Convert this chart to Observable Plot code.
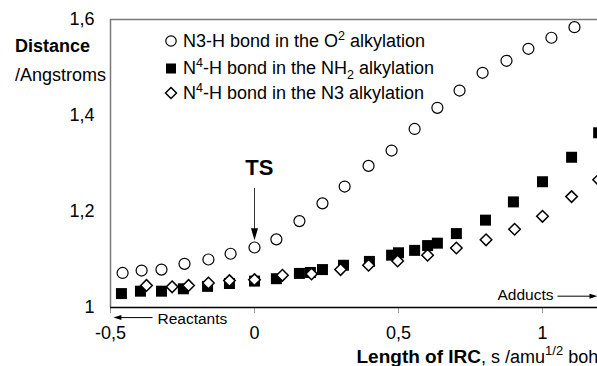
<!DOCTYPE html>
<html><head><meta charset="utf-8">
<script src="https://cdn.jsdelivr.net/npm/d3@7"></script>
<script src="https://cdn.jsdelivr.net/npm/@observablehq/plot@0.6"></script>
<style>html,body{margin:0;padding:0;overflow:hidden;background:#fff;} #chart{width:696px;} #chart svg{max-width:none !important;}</style>
</head><body><div id="chart"></div>
<script>
// N3-H bond in the O2 alkylation (open circles)
const o2X = [-0.458,-0.392,-0.323,-0.243,-0.160,-0.083,0.0,0.076,0.156,0.236,0.313,0.396,0.476,0.556,0.635,0.712,0.792,0.875,0.951,1.031,1.111];
const o2Y = [1.072,1.077,1.079,1.091,1.100,1.112,1.125,1.142,1.180,1.217,1.252,1.295,1.327,1.372,1.416,1.452,1.489,1.514,1.539,1.562,1.584];
// N4-H bond in the NH2 alkylation (filled squares)
const nh2X = [-0.462,-0.396,-0.323,-0.247,-0.163,-0.087,0.0,0.076,0.156,0.194,0.236,0.309,0.399,0.476,0.500,0.556,0.601,0.635,0.701,0.802,0.899,1.000,1.101,1.195];
const nh2Y = [1.029,1.034,1.034,1.039,1.044,1.050,1.055,1.060,1.071,1.073,1.079,1.088,1.096,1.109,1.114,1.119,1.129,1.134,1.154,1.182,1.220,1.262,1.313,1.364];
// N4-H bond in the N3 alkylation (open diamonds)
const n3X = [-0.375,-0.286,-0.229,-0.160,-0.087,0.0,0.097,0.198,0.299,0.396,0.497,0.601,0.701,0.804,0.903,1.000,1.101,1.195];
const n3Y = [1.046,1.043,1.046,1.051,1.056,1.058,1.067,1.070,1.079,1.088,1.097,1.109,1.124,1.141,1.163,1.190,1.231,1.266];

const xTicks = [-0.5, 0, 0.5, 1];
const xTickLabels = ["-0,5", "0", "0,5", "1"];
const yTicks = [1, 1.2, 1.4, 1.6];
const yTickLabels = ["1", "1,2", "1,4", "1,6"];

const rows = (xs, ys) => xs.map((x, i) => ({x, y: ys[i]}));

const diamondSym = {draw(ctx, size) { const r = Math.sqrt(size) * 0.62625; ctx.moveTo(0, -r); ctx.lineTo(r, 0); ctx.lineTo(0, r); ctx.lineTo(-r, 0); ctx.closePath(); }};
const bigHead = {draw(ctx) { ctx.moveTo(0, 0); ctx.lineTo(-3.5, -12); ctx.lineTo(3.5, -12); ctx.closePath(); }};
const smallHead = {draw(ctx) { ctx.moveTo(0, 0); ctx.lineTo(-2.5, -8); ctx.lineTo(2.5, -8); ctx.closePath(); }};

const font = "'Liberation Sans', Arial, Helvetica, sans-serif";

const chart = Plot.plot({
  width: 696, height: 366,
  marginLeft: 110, marginRight: 10, marginTop: 19, marginBottom: 59,
  style: {fontFamily: font, fontSize: "18px", color: "black", background: "white", overflow: "visible", maxWidth: "none"},
  x: {domain: [-0.5, 1.5]},
  y: {domain: [1, 1.6]},
  marks: [
    Plot.ruleY([1.6], {stroke: "#7a7a7a", strokeWidth: 1.5}),
    Plot.ruleX([-0.5], {y1: 1, y2: 1.6, stroke: "#7a7a7a", strokeWidth: 1.5}),
    Plot.axisX({ticks: xTicks, tickFormat: d => xTickLabels[xTicks.indexOf(d)], tickSize: 6, tickPadding: 13, stroke: "#999", label: null, fontSize: 18}),
    Plot.axisY({ticks: yTicks, tickFormat: d => yTickLabels[yTicks.indexOf(d)], tickSize: 0, tickPadding: 16, label: null, fontSize: 18}),
    Plot.ruleY([1], {stroke: "black", strokeWidth: 1.5}),
    Plot.dot(rows(o2X, o2Y), {x: "x", y: "y", r: 5.5, stroke: "black", strokeWidth: 1.2, fill: "white"}),
    Plot.dot(rows(nh2X, nh2Y), {x: "x", y: "y", symbol: "square", r: 6.2, fill: "black", stroke: "none"}),
    Plot.dot(rows(n3X, n3Y), {x: "x", y: "y", symbol: diamondSym, r: 5.2, fill: "white", stroke: "black", strokeWidth: 1.5}),
    // TS annotation
    Plot.text([{x: 0.017, y: 1.291}], {x: "x", y: "y", text: () => "TS", fontSize: 22, fontWeight: "bold", fill: "black"}),
    Plot.link([{x1: 0, y1: 1.249, x2: 0, y2: 1.162}], {x1: "x1", y1: "y1", x2: "x2", y2: "y2", stroke: "#333", strokeWidth: 1}),
    Plot.dot([{x: 0, y: 1.140}], {x: "x", y: "y", symbol: bigHead, r: 5, fill: "black", stroke: "none"}),
    // Reactants
    Plot.text([{x: -0.337, y: 0.976}], {x: "x", y: "y", text: () => "Reactants", textAnchor: "start", fontSize: 15.5, fill: "black"}),
    Plot.link([{x1: -0.354, y1: 0.979, x2: -0.465, y2: 0.979}], {x1: "x1", y1: "y1", x2: "x2", y2: "y2", stroke: "black", strokeWidth: 1}),
    Plot.dot([{x: -0.49, y: 0.979}], {x: "x", y: "y", symbol: smallHead, r: 5, rotate: 90, fill: "black", stroke: "none"}),
    // Adducts
    Plot.text([{x: 1.038, y: 1.0251}], {x: "x", y: "y", text: () => "Adducts", textAnchor: "end", fontSize: 15.5, fill: "black"}),
    Plot.link([{x1: 1.052, y1: 1.0236, x2: 1.165, y2: 1.0236}], {x1: "x1", y1: "y1", x2: "x2", y2: "y2", stroke: "black", strokeWidth: 1}),
    Plot.dot([{x: 1.191, y: 1.0236}], {x: "x", y: "y", symbol: smallHead, r: 5, rotate: -90, fill: "black", stroke: "none"})
  ]
});

const svg = d3.select(chart);
// Y title
const yt = svg.append("g").attr("font-family", font).attr("fill", "black").attr("text-anchor", "start");
yt.append("text").attr("x", 15).attr("y", 51.5).attr("font-size", 18).attr("font-weight", "bold").text("Distance");
yt.append("text").attr("x", 15).attr("y", 81).attr("font-size", 18).text("/Angstroms");

// X title
const xt = svg.append("text").attr("x", 356.5).attr("y", 363).attr("text-anchor", "start").attr("font-family", font).attr("font-size", 18).attr("fill", "black");
xt.append("tspan").attr("font-weight", "bold").attr("font-size", 19).text("Length of IRC");
xt.append("tspan").text(", s /amu");
xt.append("tspan").attr("dy", -8).attr("font-size", 13).text("1/2");
xt.append("tspan").attr("dy", 8).text(" bohr");

// Legend
const legend = svg.append("g").attr("font-family", font).attr("font-size", 18).attr("fill", "black").attr("text-anchor", "start");
const legendItems = [
  {y: 46.5, parts: [["N3-H bond in the O", 0], ["2", -7], [" alkylation", 7]], sym: "circle"},
  {y: 74, parts: [["N", 0], ["4", -7], ["-H bond in the NH", 7], ["2", 5], [" alkylation", -5]], sym: "square"},
  {y: 98.5, parts: [["N", 0], ["4", -7], ["-H bond in the N3 alkylation", 7]], sym: "diamond"}
];
legendItems.forEach(it => {
  const t = legend.append("text").attr("x", 183).attr("y", it.y);
  it.parts.forEach(([s, dy]) => {
    const sp = t.append("tspan").attr("dy", dy).text(s);
    if (s === "2" || s === "4") sp.attr("font-size", 12.5);
  });
  const cy = it.y - 5.5;
  if (it.sym === "circle") legend.append("circle").attr("cx", 171).attr("cy", cy).attr("r", 5.2).attr("fill", "white").attr("stroke", "black").attr("stroke-width", 1.2);
  if (it.sym === "square") legend.append("rect").attr("x", 166).attr("y", cy - 5).attr("width", 10).attr("height", 10).attr("fill", "black");
  if (it.sym === "diamond") legend.append("path").attr("d", `M171,${cy-5.5}L176.5,${cy}L171,${cy+5.5}L165.5,${cy}Z`).attr("fill", "white").attr("stroke", "black").attr("stroke-width", 1.5);
});

document.getElementById("chart").appendChild(chart);
</script>
</body></html>
